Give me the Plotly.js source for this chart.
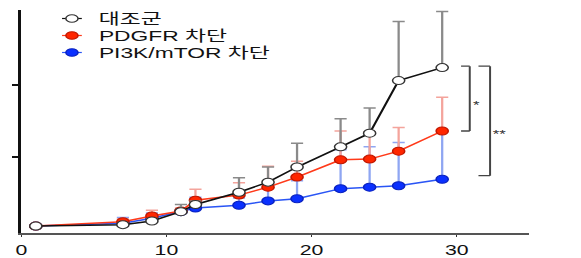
<!DOCTYPE html>
<html>
<head>
<meta charset="utf-8">
<script src="https://cdn.plot.ly/plotly-3.0.1.min.js"></script>
<style>
html,body{margin:0;padding:0;background:#fff;}
#wrap{width:581px;height:258px;overflow:hidden;}
#chart{width:382px;height:258px;transform:scaleX(1.5209);transform-origin:0 0;}
</style>
</head>
<body>
<div id="wrap"><div id="chart"></div></div>
<script>
// ---- data ----
const days = [1, 7, 9, 11, 12, 15, 17, 19, 22, 24, 26, 29];
const seriesNames = ['대조군', 'PDGFR 차단', 'PI3K/mTOR 차단'];
const controlVals = [0.04, 0.06, 0.11, 0.24, 0.34, 0.51, 0.65, 0.86, 1.14, 1.33, 2.06, 2.24];
const controlErr  = [0.01, 0.02, 0.03, 0.10, 0.05, 0.20, 0.21, 0.33, 0.39, 0.35, 0.82, 0.78];
const pdgfrVals   = [0.04, 0.10, 0.18, 0.25, 0.40, 0.47, 0.58, 0.72, 0.96, 0.97, 1.08, 1.36];
const pdgfrErr    = [0.00, 0.04, 0.08, 0.04, 0.15, 0.17, 0.29, 0.22, 0.40, 0.38, 0.33, 0.47];
const pi3kVals    = [0.04, 0.08, 0.15, 0.24, 0.29, 0.33, 0.39, 0.42, 0.56, 0.58, 0.60, 0.69];
const pi3kErr     = [0.00, 0.08, 0.07, 0.03, 0.15, 0.10, 0.21, 0.25, 0.54, 0.56, 0.60, 0.68];
const xTickVals = [0, 10, 20, 30];
const xTickText = ['0', '10', '20', '30'];
const sigLabels = ['*', '**'];

const zeros = days.map(() => 0);
const FONT = 'Arial, "Liberation Sans", "Noto Sans CJK KR", sans-serif';

const styles = [
  {line: '#111111', fill: '#ffffff', edge: '#333333', err: '#8a8a8a'},
  {line: '#ff3a1a', fill: '#ff2600', edge: '#c01800', err: '#f4a49c'},
  {line: '#2a55f5', fill: '#0a30ff', edge: '#0a22c0', err: '#8fa6f2'}
];

function mk(vals, err, st, name) {
  return {
    x: days, y: vals, name: name, type: 'scatter', mode: 'lines+markers',
    showlegend: false, cliponaxis: false,
    line: {color: st.line, width: 1.5},
    marker: {symbol: 'circle', size: 8, color: st.fill, line: {color: st.edge, width: 1}},
    error_y: {type: 'data', symmetric: false, array: err, arrayminus: zeros,
              color: st.err, thickness: 1.5, width: 4}
  };
}

const traces = [
  mk(pi3kVals, pi3kErr, styles[2], seriesNames[2]),
  mk(pdgfrVals, pdgfrErr, styles[1], seriesNames[1]),
  mk(controlVals, controlErr, styles[0], seriesNames[0])
];

// plot area in unscaled px
const L = 14, T = 10, PW = 334, PH = 223;
const px2x = p => (p - L) / PW;
const py2y = p => 1 - (p - T) / PH;

const shapes = [];
const annotations = [];
// legend (manual)
const legendOrder = [0, 1, 2];
legendOrder.forEach((k, i) => {
  const yp = py2y(18.5 + 17 * i);
  const xc = px2x(47.3);
  shapes.push({type: 'line', xref: 'paper', yref: 'paper', xsizemode: 'pixel', xanchor: xc,
    x0: -6.5, x1: 6.5, y0: yp, y1: yp, line: {color: styles[k].line, width: 1.2}});
  shapes.push({type: 'circle', xref: 'paper', yref: 'paper', xsizemode: 'pixel', ysizemode: 'pixel',
    xanchor: xc, yanchor: yp, x0: -4, x1: 4, y0: -3.8, y1: 3.8,
    fillcolor: styles[k].fill, line: {color: styles[k].edge, width: 1}});
  annotations.push({xref: 'paper', yref: 'paper', x: px2x(63.5), y: yp, xanchor: 'left', yanchor: 'middle',
    showarrow: false, borderpad: 0, text: seriesNames[k], font: {family: FONT, size: 15, color: '#111'}});
});

// significance brackets
const last = days.length - 1;
const bc = '#444';
function bracket(xArm, xV, yTop, yBot) {
  shapes.push({type: 'line', xref: 'x', yref: 'y', x0: xArm, x1: xV, y0: yTop, y1: yTop, line: {color: bc, width: 1.3}});
  shapes.push({type: 'line', xref: 'x', yref: 'y', x0: xV, x1: xV, y0: yTop, y1: yBot, line: {color: bc, width: 1.3}});
  shapes.push({type: 'line', xref: 'x', yref: 'y', x0: xArm, x1: xV, y0: yBot, y1: yBot, line: {color: bc, width: 1.3}});
}
bracket(30.3, 30.9, controlVals[last] + 0.02, pdgfrVals[last]);
bracket(31.5, 32.3, controlVals[last] + 0.02, pi3kVals[last] + 0.05);
annotations.push({xref: 'x', yref: 'y', x: 31.4, y: 1.72, text: sigLabels[0], showarrow: false,
  font: {family: FONT, size: 11, color: '#333'}});
annotations.push({xref: 'x', yref: 'y', x: 33.0, y: 1.32, text: sigLabels[1], showarrow: false,
  font: {family: FONT, size: 11, color: '#333'}});

const layout = {
  width: 382, height: 258,
  margin: {l: L, r: 382 - L - PW, t: T, b: 258 - T - PH, pad: 0},
  paper_bgcolor: '#fff', plot_bgcolor: '#fff',
  showlegend: false,
  font: {family: FONT, color: '#111'},
  xaxis: {range: [0, 35], tickvals: xTickVals, ticktext: xTickText, ticks: 'outside', ticklen: 2,
    tickwidth: 1, tickcolor: '#333', showline: true, linecolor: '#555', linewidth: 1.5,
    ticklabelstandoff: 2,
    showgrid: false, zeroline: false, tickfont: {family: FONT, size: 14, color: '#111'}},
  yaxis: {range: [-0.056, 3.04], tickvals: [1, 2], ticks: 'outside', ticklen: 4, tickwidth: 1.2,
    tickcolor: '#111', showticklabels: false, showline: true, linecolor: '#111', linewidth: 2,
    showgrid: false, zeroline: false},
  shapes: shapes,
  annotations: annotations
};

Plotly.newPlot('chart', traces, layout, {staticPlot: true, displayModeBar: false});
</script>
</body>
</html>
